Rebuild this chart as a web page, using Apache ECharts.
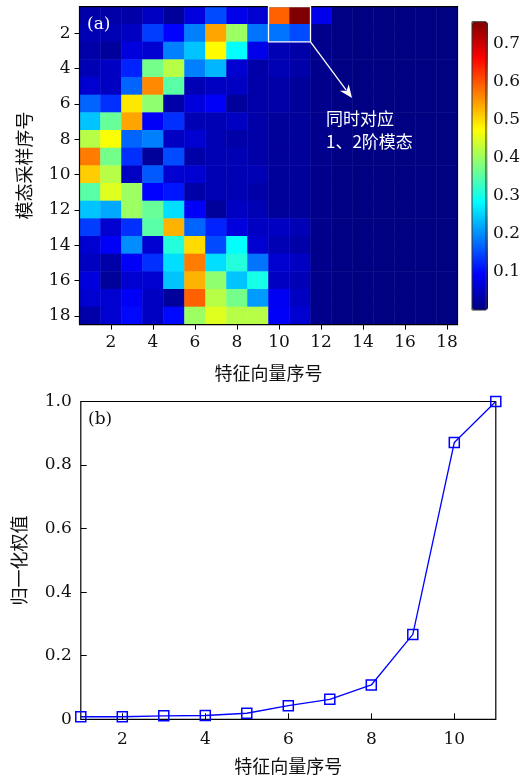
<!DOCTYPE html>
<html><head><meta charset="utf-8">
<script src="https://cdn.jsdelivr.net/npm/echarts@6/dist/echarts.min.js"></script>
<style>html,body{margin:0;padding:0;background:#fff}#c{width:523px;height:778px}</style>
</head><body><div id="c"></div>
<script>
// ---- data ----
const featureCats = ['1','2','3','4','5','6','7','8','9','10','11','12','13','14','15','16','17','18'];
const sampleCats  = ['1','2','3','4','5','6','7','8','9','10','11','12','13','14','15','16','17','18'];
// rows = 模态采样序号 1..18, columns = 特征向量序号 1..18
const row1  = [0.03,0.03,0.03,0.05,0.02,0.07,0.15,0.08,0.06,0.59,0.757,0.08,0.004,0.003,0.003,0.003,0.003,0.003];
const row2  = [0.04,0.04,0.05,0.14,0.095,0.19,0.54,0.40,0.18,0.18,0.15,0.01,0.004,0.003,0.003,0.003,0.003,0.003];
const row3  = [0.03,0.02,0.07,0.06,0.19,0.24,0.475,0.285,0.08,0.04,0.03,0.01,0.004,0.003,0.003,0.003,0.003,0.003];
const row4  = [0.04,0.05,0.12,0.37,0.42,0.19,0.23,0.06,0.03,0.04,0.03,0.01,0.004,0.003,0.003,0.003,0.003,0.003];
const row5  = [0.06,0.05,0.17,0.56,0.35,0.04,0.05,0.05,0.03,0.03,0.02,0.01,0.004,0.003,0.003,0.003,0.003,0.003];
const row6  = [0.17,0.13,0.49,0.39,0.03,0.07,0.09,0.02,0.03,0.03,0.02,0.01,0.004,0.003,0.003,0.003,0.003,0.003];
const row7  = [0.24,0.36,0.54,0.09,0.13,0.04,0.04,0.05,0.03,0.02,0.02,0.01,0.004,0.003,0.003,0.003,0.003,0.003];
const row8  = [0.42,0.47,0.17,0.19,0.05,0.06,0.04,0.03,0.03,0.02,0.02,0.01,0.004,0.003,0.003,0.003,0.003,0.003];
const row9  = [0.57,0.37,0.13,0.02,0.15,0.03,0.04,0.04,0.03,0.02,0.02,0.01,0.004,0.003,0.003,0.003,0.003,0.003];
const row10 = [0.51,0.42,0.05,0.16,0.06,0.06,0.04,0.04,0.04,0.02,0.02,0.01,0.004,0.003,0.003,0.003,0.003,0.003];
const row11 = [0.35,0.45,0.40,0.095,0.11,0.03,0.04,0.04,0.03,0.02,0.02,0.01,0.004,0.003,0.003,0.003,0.003,0.003];
const row12 = [0.24,0.22,0.40,0.36,0.26,0.09,0.02,0.05,0.04,0.02,0.02,0.01,0.004,0.003,0.003,0.003,0.003,0.003];
const row13 = [0.14,0.06,0.13,0.35,0.53,0.17,0.12,0.07,0.05,0.05,0.04,0.01,0.004,0.003,0.003,0.003,0.003,0.003];
const row14 = [0.06,0.09,0.20,0.06,0.31,0.50,0.15,0.285,0.06,0.04,0.03,0.01,0.004,0.003,0.003,0.003,0.003,0.003];
const row15 = [0.05,0.03,0.09,0.13,0.26,0.57,0.26,0.31,0.18,0.06,0.05,0.01,0.004,0.003,0.003,0.003,0.003,0.003];
const row16 = [0.07,0.02,0.06,0.06,0.24,0.53,0.39,0.24,0.30,0.05,0.04,0.01,0.004,0.003,0.003,0.003,0.003,0.003];
const row17 = [0.06,0.06,0.09,0.05,0.02,0.59,0.42,0.37,0.21,0.085,0.05,0.01,0.004,0.003,0.003,0.003,0.003,0.003];
const row18 = [0.03,0.06,0.10,0.05,0.10,0.40,0.45,0.42,0.42,0.09,0.06,0.01,0.004,0.003,0.003,0.003,0.003,0.003];
const heatRows = [row1,row2,row3,row4,row5,row6,row7,row8,row9,row10,row11,row12,row13,row14,row15,row16,row17,row18];
const colorbarTicks = [0.1,0.2,0.3,0.4,0.5,0.6,0.7];
const colorMax = 0.757;

const featureIdx = [1,2,3,4,5,6,7,8,9,10,11];
const weights    = [0.008,0.008,0.011,0.012,0.019,0.043,0.063,0.108,0.267,0.871,1.0];
const lineXTicks = [2,4,6,8,10];

// ---- build ----
const heatData = [];
heatRows.forEach((row, r) => row.forEach((v, c) => heatData.push([c, r, v])));
const jet = ['#00007F','#0000FF','#007FFF','#00FFFF','#7FFF7F','#FFFF00','#FF7F00','#FF0000','#7F0000'];
const FONT = 'DejaVu Serif';
const CJK = 'Noto Sans CJK SC';
const evenIdx = (i) => i % 2 === 1;

const chart = echarts.init(document.getElementById('c'), null, {renderer: 'canvas'});
const option = {
  animation: false,
  textStyle: {fontFamily: FONT},
  grid: [
    {left: 79.5, top: 6.6, width: 378, height: 318, show: true, borderColor: '#000', borderWidth: 1.2, backgroundColor: 'transparent', z: 3},
    {left: 80.8, top: 401.5, width: 415, height: 317.8, show: true, borderColor: '#000', borderWidth: 1.2, backgroundColor: 'transparent'},
    {left: 472, top: 21.7, width: 16, height: 288.3, show: true, borderColor: '#333', borderWidth: 1, backgroundColor: 'transparent', z: 5}
  ],
  xAxis: [
    {type: 'category', gridIndex: 0, data: featureCats,
     axisLine: {show: false},
     axisTick: {show: true, alignWithLabel: true, interval: evenIdx, length: 5, lineStyle: {color: '#000'}},
     axisLabel: {interval: evenIdx, color: '#111', fontSize: 17, fontFamily: FONT, margin: 9},
     name: '特征向量序号', nameLocation: 'middle', nameGap: 40,
     nameTextStyle: {fontFamily: CJK, fontSize: 18, color: '#111'}},
    {type: 'value', gridIndex: 1, min: 1, max: 11,
     axisLine: {show: false}, splitLine: {show: false},
     axisTick: {show: true, inside: true, length: 6, customValues: lineXTicks, lineStyle: {color: '#000'}},
     axisLabel: {customValues: lineXTicks, color: '#111', fontSize: 17, fontFamily: FONT, margin: 12},
     name: '特征向量序号', nameLocation: 'middle', nameGap: 38,
     nameTextStyle: {fontFamily: CJK, fontSize: 18, color: '#111'}},
    {type: 'value', gridIndex: 2, show: false, min: 0, max: 1}
  ],
  yAxis: [
    {type: 'category', gridIndex: 0, data: sampleCats, inverse: true,
     axisLine: {show: false},
     axisTick: {show: true, alignWithLabel: true, interval: evenIdx, length: 5, lineStyle: {color: '#000'}},
     axisLabel: {interval: evenIdx, color: '#111', fontSize: 17, fontFamily: FONT, margin: 9},
     name: '模态采样序号', nameLocation: 'middle', nameGap: 46, nameRotate: 90,
     nameTextStyle: {fontFamily: CJK, fontSize: 18, color: '#111'}},
    {type: 'value', gridIndex: 1, min: 0, max: 1, interval: 0.2,
     axisLine: {show: false}, splitLine: {show: false},
     axisTick: {show: true, inside: true, length: 6, lineStyle: {color: '#000'}},
     axisLabel: {color: '#111', fontSize: 17, fontFamily: FONT, margin: 9,
       formatter: (v) => v === 0 ? '0' : v.toFixed(1)},
     name: '归一化权值', nameLocation: 'middle', nameGap: 53, nameRotate: 90,
     nameTextStyle: {fontFamily: CJK, fontSize: 18, color: '#111'}},
    {type: 'value', gridIndex: 2, position: 'right', min: 0, max: colorMax,
     axisLine: {show: false}, splitLine: {show: false},
     axisTick: {show: true, length: 4, customValues: colorbarTicks, lineStyle: {color: '#000'}},
     axisLabel: {customValues: colorbarTicks, color: '#111', fontSize: 17, fontFamily: FONT, margin: 7,
       formatter: (v) => v.toFixed(1)}}
  ],
  visualMap: {
    type: 'continuous', min: 0, max: colorMax, seriesIndex: 0, calculable: false,
    orient: 'vertical', left: 472, top: 21.7, itemWidth: 16, itemHeight: 288.3, padding: 0,
    text: null, showLabel: false, inRange: {color: jet}, hoverLink: false
  },
  series: [
    {type: 'heatmap', xAxisIndex: 0, yAxisIndex: 0, data: heatData, itemStyle: {borderWidth: 0}, emphasis: {disabled: true}, progressive: 0},
    {type: 'line', xAxisIndex: 1, yAxisIndex: 1,
     data: featureIdx.map((x, i) => [x, weights[i]]),
     lineStyle: {color: '#0000ff', width: 1.3},
     symbol: 'rect', symbolSize: 10,
     itemStyle: {color: 'rgba(0,0,0,0)', borderColor: '#0000ff', borderWidth: 1.5},
     z: 4}
  ]
};
chart.setOption(option);

// annotation built from data coordinates
const p10 = chart.convertToPixel({xAxisIndex: 0, yAxisIndex: 0}, [9, 0]);
const p11 = chart.convertToPixel({xAxisIndex: 0, yAxisIndex: 0}, [10, 1]);
const cw = p11[0] - p10[0], ch = p11[1] - p10[1];
const bx0 = p10[0] - cw / 2, by0 = p10[1] - ch / 2, bx1 = p11[0] + cw / 2, by1 = p11[1] + ch / 2;
const ax1 = 352, ay1 = 98;
const ang = Math.atan2(ay1 - by1, ax1 - bx1);
const hl = 13, hw = 5.5;
const baseX = ax1 - hl * Math.cos(ang), baseY = ay1 - hl * Math.sin(ang);
chart.setOption({
  graphic: [
    {type: 'rect', shape: {x: bx0, y: by0, width: bx1 - bx0, height: by1 - by0}, style: {fill: null, stroke: '#fff', lineWidth: 1.3}, z: 10},
    {type: 'line', shape: {x1: bx1, y1: by1, x2: baseX + 3 * Math.cos(ang), y2: baseY + 3 * Math.sin(ang)}, style: {stroke: '#fff', lineWidth: 1.3}, z: 10},
    {type: 'polygon', shape: {points: [[ax1, ay1],
      [baseX + hw * Math.sin(ang), baseY - hw * Math.cos(ang)],
      [baseX + 4 * Math.cos(ang), baseY + 4 * Math.sin(ang)],
      [baseX - hw * Math.sin(ang), baseY + hw * Math.cos(ang)]]}, style: {fill: '#fff'}, z: 10},
    {type: 'text', left: 326, top: 107, style: {text: '同时对应\n1、2阶模态', fill: '#fff', font: '17px "Noto Sans CJK SC"', lineHeight: 23}, z: 10},
    {type: 'text', left: 87, top: 16, style: {text: '(a)', fill: '#fff', font: '17px "DejaVu Serif"'}, z: 10},
    {type: 'text', left: 88, top: 411, style: {text: '(b)', fill: '#111', font: '17px "DejaVu Serif"'}, z: 10}
  ]
});
</script></body></html>
